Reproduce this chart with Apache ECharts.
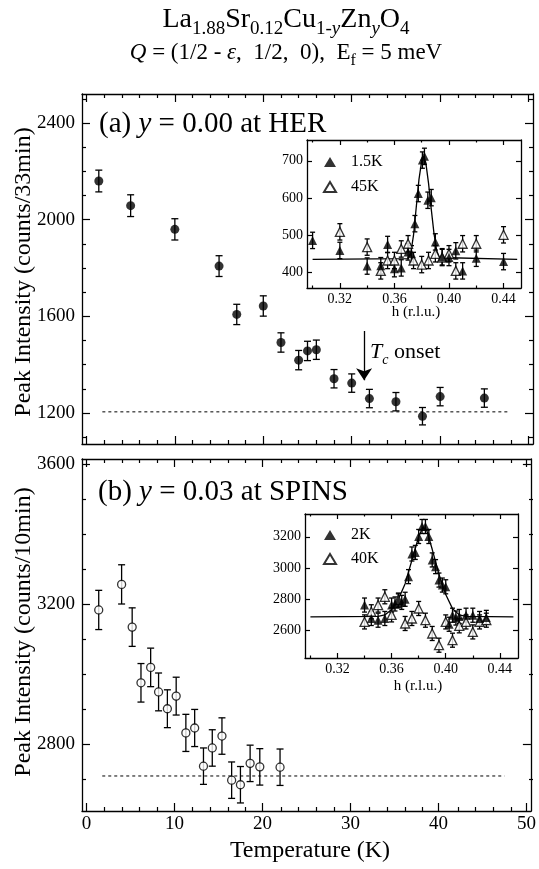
<!DOCTYPE html>
<html>
<head>
<meta charset="utf-8">
<script src="https://cdn.jsdelivr.net/npm/echarts@6/dist/echarts.min.js"></script>
<style>
  html, body { margin: 0; padding: 0; background: #fff; }
  #main { width: 539px; height: 869px; }
</style>
</head>
<body>
<div id="main"></div>
<script>
// ---- panel (a): y = 0.00 at HER, counts/33min
var tempA = [1.4, 5, 10, 15, 17, 20, 22, 24, 25, 26, 28, 30, 32, 35, 38, 40, 45];
var peakA = [2160, 2058, 1960, 1808, 1608, 1643, 1492, 1419, 1457, 1462, 1342, 1324, 1260, 1247, 1187, 1268, 1262];
var errA = [45, 45, 44, 43, 42, 42, 40, 40, 40, 40, 38, 38, 38, 38, 36, 38, 38];
var baseA = [[1.8, 1205], [47.6, 1205]];
var arrowA = [[31.4, 1540], [31.4, 1336]];

// ---- panel (b): y = 0.03 at SPINS, counts/10min
var tempB = [1.4, 4.0, 5.2, 6.2, 7.3, 8.2, 9.2, 10.2, 11.3, 12.3, 13.3, 14.3, 15.4, 16.5, 17.5, 18.6, 19.7, 22.0];
var peakB = [3184, 3257, 3135, 2976, 3020, 2950, 2902, 2938, 2833, 2847, 2738, 2790, 2824, 2698, 2685, 2746, 2736, 2735];
var errB = [56, 56, 55, 55, 55, 54, 54, 54, 53, 53, 52, 52, 52, 52, 52, 52, 52, 52];
var baseB = [[1.8, 2710], [47.5, 2710]];

// ---- inset (a): h scans at 1.5K and 45K
var h15 = [0.300, 0.320, 0.340, 0.350, 0.355, 0.360, 0.365, 0.370, 0.3725, 0.375, 0.3775, 0.3805, 0.382, 0.3845, 0.387, 0.390, 0.395, 0.400, 0.405, 0.410, 0.420, 0.440];
var v15 = [486, 459, 417, 418, 475, 410, 412, 455, 450, 531, 612, 702, 712, 594, 601, 482, 442, 440, 458, 404, 438, 429];
var h45 = [0.320, 0.340, 0.350, 0.355, 0.360, 0.365, 0.370, 0.374, 0.380, 0.385, 0.390, 0.395, 0.400, 0.405, 0.410, 0.420, 0.440];
var v45 = [509, 468, 404, 432, 432, 463, 477, 432, 421, 432, 450, 440, 450, 404, 477, 477, 501];
var fitAh = [0.300, 0.370, 0.372, 0.374, 0.376, 0.378, 0.380, 0.3815, 0.383, 0.385, 0.387, 0.389, 0.391, 0.393, 0.450];
var fitAv = [435, 437, 452, 500, 575, 650, 700, 712, 695, 640, 570, 505, 458, 440, 435];

// ---- inset (b): h scans at 2K and 40K
var h2 = [0.340, 0.345, 0.350, 0.355, 0.360, 0.3625, 0.365, 0.3675, 0.370, 0.3725, 0.375, 0.3775, 0.380, 0.3825, 0.385, 0.3875, 0.390, 0.3925, 0.395, 0.3975, 0.400, 0.4025, 0.405, 0.4075, 0.410, 0.415, 0.420, 0.425, 0.430];
var v2 = [2763, 2677, 2666, 2677, 2763, 2770, 2790, 2780, 2800, 2945, 3090, 3100, 3202, 3266, 3266, 3202, 3052, 3009, 2923, 2891, 2880, 2640, 2698, 2680, 2690, 2698, 2698, 2677, 2684];
var h40 = [0.340, 0.345, 0.350, 0.355, 0.360, 0.365, 0.370, 0.375, 0.380, 0.385, 0.390, 0.395, 0.400, 0.405, 0.410, 0.415, 0.420, 0.425, 0.430];
var v40 = [2655, 2720, 2763, 2816, 2700, 2795, 2645, 2677, 2741, 2666, 2581, 2506, 2655, 2538, 2630, 2655, 2591, 2655, 2666];
var fitBh = [0.300, 0.350, 0.355, 0.360, 0.365, 0.370, 0.375, 0.380, 0.383, 0.386, 0.390, 0.395, 0.400, 0.405, 0.410, 0.415, 0.450];
var fitBv = [2687, 2690, 2700, 2735, 2800, 2900, 3050, 3200, 3260, 3240, 3120, 2960, 2830, 2740, 2700, 2690, 2687];

// tick values
var tMajor = [0, 10, 20, 30, 40, 50];
var tMinor = [2, 4, 6, 8, 12, 14, 16, 18, 22, 24, 26, 28, 32, 34, 36, 38, 42, 44, 46, 48];
var yAMajor = [1200, 1600, 2000, 2400];
var yAMinor = [1100, 1300, 1400, 1500, 1700, 1800, 1900, 2100, 2200, 2300, 2500];
var yBMajor = [2800, 3200, 3600];
var yBMinor = [2700, 2900, 3000, 3100, 3300, 3400, 3500];
var hMajor = [0.32, 0.36, 0.40, 0.44];
var hMinor = [0.30, 0.34, 0.38, 0.42];
var iaMajor = [400, 500, 600, 700];
var ibMajor = [2600, 2800, 3000, 3200];

var FONT = 'Liberation Serif';
var grids = [], xAxes = [], yAxes = [];

function zip(a, b) { return a.map(function (v, i) { return [v, b[i]]; }); }
function plain(v) { return String(v); }

// one framed box = two grids on the same rect: major ticks (with labels), minor ticks
function frame(rect, o) {
  [true, false].forEach(function (isMajor) {
    var g = grids.length;
    grids.push({ left: rect[0], top: rect[1], width: rect[2], height: rect[3],
      show: !!(o.bg && isMajor), backgroundColor: '#fff', borderWidth: 0 });
    var xt = isMajor ? o.xMajor : o.xMinor, yt = isMajor ? o.yMajor : o.yMinor;
    var tl = isMajor ? o.tick : o.tick / 2;
    ['bottom', 'top'].forEach(function (pos) {
      xAxes.push({
        type: 'value', gridIndex: g, position: pos, min: o.xMin, max: o.xMax,
        axisLine: { show: isMajor, onZero: false, lineStyle: { color: '#000', width: 1.3 } },
        axisTick: { show: xt.length > 0, inside: true, length: tl, customValues: xt,
          lineStyle: { color: '#000', width: 1.2 } },
        axisLabel: { show: isMajor && pos === 'bottom' && o.xLab, customValues: o.xMajor,
          fontFamily: FONT, fontSize: o.fs, color: '#000', margin: o.xMargin,
          formatter: o.xFmt || plain },
        splitLine: { show: false }
      });
    });
    ['left', 'right'].forEach(function (pos) {
      yAxes.push({
        type: 'value', gridIndex: g, position: pos, min: o.yMin, max: o.yMax,
        axisLine: { show: isMajor, onZero: false, lineStyle: { color: '#000', width: 1.3 } },
        axisTick: { show: yt.length > 0, inside: true, length: tl, customValues: yt,
          lineStyle: { color: '#000', width: 1.2 } },
        axisLabel: { show: isMajor && pos === 'left', customValues: o.yMajor,
          fontFamily: FONT, fontSize: o.fs, color: '#000', margin: o.yMargin,
          formatter: plain },
        splitLine: { show: false }
      });
    });
  });
}

frame([82, 94, 451, 350], { xMin: -0.5, xMax: 50.5, xMajor: tMajor, xMinor: tMinor,
  yMin: 1072, yMax: 2520, yMajor: yAMajor, yMinor: yAMinor, tick: 8, fs: 19,
  xLab: false, xMargin: 4, yMargin: 7 });
frame([82, 459, 451, 352], { xMin: -0.5, xMax: 50.5, xMajor: tMajor, xMinor: tMinor,
  yMin: 2610, yMax: 3615, yMajor: yBMajor, yMinor: yBMinor, tick: 8, fs: 19,
  xLab: true, xMargin: 4, yMargin: 7 });
frame([307, 140, 214, 148], { xMin: 0.2959, xMax: 0.4528, xMajor: hMajor, xMinor: hMinor,
  yMin: 358, yMax: 756, yMajor: iaMajor, yMinor: [], tick: 5, fs: 14, bg: true,
  xLab: true, xMargin: 4, yMargin: 4, xFmt: function (v) { return v.toFixed(2); } });
frame([305, 514, 213, 144], { xMin: 0.296, xMax: 0.4534, xMajor: hMajor, xMinor: hMinor,
  yMin: 2424, yMax: 3346, yMajor: ibMajor, yMinor: [], tick: 5, fs: 14, bg: true,
  xLab: true, xMargin: 4, yMargin: 4, xFmt: function (v) { return v.toFixed(2); } });

// axis index of each box's major axes
var AX_A = 0, AX_B = 4, AX_IA = 8, AX_IB = 12;

function errorBars(xs, ys, es, ax, cap) {
  return {
    type: 'custom', xAxisIndex: ax, yAxisIndex: ax, silent: true, z: 3,
    data: xs.map(function (x, i) { return [x, ys[i] - es[i], ys[i] + es[i]]; }),
    encode: { x: 0, y: [1, 2] },
    renderItem: function (params, api) {
      var lo = api.coord([api.value(0), api.value(1)]);
      var hi = api.coord([api.value(0), api.value(2)]);
      var st = { stroke: '#000', lineWidth: 1.3 };
      return { type: 'group', children: [
        { type: 'line', shape: { x1: lo[0], y1: lo[1], x2: hi[0], y2: hi[1] }, style: st },
        { type: 'line', shape: { x1: lo[0] - cap, y1: lo[1], x2: lo[0] + cap, y2: lo[1] }, style: st },
        { type: 'line', shape: { x1: hi[0] - cap, y1: hi[1], x2: hi[0] + cap, y2: hi[1] }, style: st }
      ] };
    }
  };
}

function scatter(name, xs, ys, ax, symbol, size, open) {
  return {
    name: name, type: 'scatter', xAxisIndex: ax, yAxisIndex: ax, z: 4,
    symbol: symbol, symbolSize: size, data: zip(xs, ys),
    itemStyle: open ? { color: '#fff', borderColor: '#000', borderWidth: 1.3 } : { color: '#000' }
  };
}

function line(name, data, ax, dashed) {
  return {
    name: name, type: 'line', xAxisIndex: ax, yAxisIndex: ax, z: 2,
    showSymbol: false, symbol: 'none', data: data, silent: true,
    lineStyle: { color: '#000', width: dashed ? 1 : 1.3, type: dashed ? [3, 3] : 'solid' }
  };
}

function eConst(xs, e) { return xs.map(function () { return e; }); }

var series = [
  line('baseA', baseA, AX_A, true),
  errorBars(tempA, peakA, errA, AX_A, 3.5),
  scatter('y=0.00', tempA, peakA, AX_A, 'circle', 9, false),
  {
    type: 'lines', coordinateSystem: 'cartesian2d', xAxisIndex: AX_A, yAxisIndex: AX_A,
    symbol: ['none', 'arrow'], symbolSize: [7, 12], silent: true,
    lineStyle: { color: '#000', width: 1.3, opacity: 1 },
    itemStyle: { color: '#000', opacity: 1 },
    data: [{ coords: arrowA }]
  },
  line('baseB', baseB, AX_B, true),
  errorBars(tempB, peakB, errB, AX_B, 3.5),
  scatter('y=0.03', tempB, peakB, AX_B, 'circle', 8, true),

  line('fitA', zip(fitAh, fitAv), AX_IA, false),
  errorBars(h45, v45, eConst(h45, 22), AX_IA, 2.5),
  errorBars(h15, v15, eConst(h15, 22), AX_IA, 2.5),
  scatter('45K', h45, v45, AX_IA, 'triangle', 9, true),
  scatter('1.5K', h15, v15, AX_IA, 'triangle', 9, false),

  line('fitB', zip(fitBh, fitBv), AX_IB, false),
  errorBars(h40, v40, eConst(h40, 45), AX_IB, 2.5),
  errorBars(h2, v2, eConst(h2, 45), AX_IB, 2.5),
  scatter('40K', h40, v40, AX_IB, 'triangle', 9, true),
  scatter('2K', h2, v2, AX_IB, 'triangle', 9, false)
];

function legendAt(names, top, gap) {
  return {
    data: names, orient: 'vertical', left: 323, top: top, padding: 0,
    itemWidth: 12, itemHeight: 10, itemGap: gap, selectedMode: false,
    textStyle: { fontFamily: FONT, fontSize: 16, color: '#000', padding: [0, 0, 0, 10] }
  };
}

var sub = function (fs, pad) { return { fontFamily: FONT, fontSize: fs, fill: '#000', verticalAlign: 'bottom', padding: [0, 0, pad, 0] }; };
var ita = function (fs, pad) { var s = sub(fs, pad); s.fontStyle = 'italic'; return s; };

function txt(x, y, text, rich, align, rot) {
  return {
    type: 'text', x: x, y: y, rotation: rot || 0, silent: true,
    style: { text: text, rich: rich, textAlign: align || 'center', textVerticalAlign: 'middle', fill: '#000' }
  };
}

var graphics = [
  txt(286, 22, '{n|La}{s|1.88}{n|Sr}{s|0.12}{n|Cu}{s|1-}{si|y}{n|Zn}{si|y}{n|O}{s|4}',
    { n: sub(28, 5), s: sub(19, 0), si: ita(19, 0) }),
  txt(286, 55, '{i|Q}{n| = (1/2 - }{i|ε}{n|,  1/2,  0),  E}{s|f}{n| = 5 meV}',
    { n: sub(23, 5), i: ita(23, 5), s: sub(16, 0) }),
  txt(99, 124, '{n|(a) }{i|y}{n| = 0.00 at HER}', { n: sub(29, 0), i: ita(29, 0) }, 'left'),
  txt(98, 492, '{n|(b) }{i|y}{n| = 0.03 at SPINS}', { n: sub(29, 0), i: ita(29, 0) }, 'left'),
  txt(370, 354, '{i|T}{s|c}{n| onset}', { n: sub(22, 4), i: ita(22, 4), s: ita(14, 0) }, 'left'),
  txt(24, 272, '{n|Peak Intensity (counts/33min)}', { n: sub(24, 0) }, 'center', Math.PI / 2),
  txt(24, 632, '{n|Peak Intensity (counts/10min)}', { n: sub(24, 0) }, 'center', Math.PI / 2),
  txt(310, 851, '{n|Temperature (K)}', { n: sub(24, 0) }),
  txt(416, 312, '{n|h (r.l.u.)}', { n: sub(15, 0) }),
  txt(418, 686, '{n|h (r.l.u.)}', { n: sub(15, 0) })
];

var chart = echarts.init(document.getElementById('main'), null, { renderer: 'canvas' });
chart.setOption({
  animation: false,
  backgroundColor: '#fff',
  grid: grids,
  xAxis: xAxes,
  yAxis: yAxes,
  legend: [legendAt(['1.5K', '45K'], 154, 9), legendAt(['2K', '40K'], 527, 8)],
  series: series,
  graphic: graphics
});
</script>
</body>
</html>
